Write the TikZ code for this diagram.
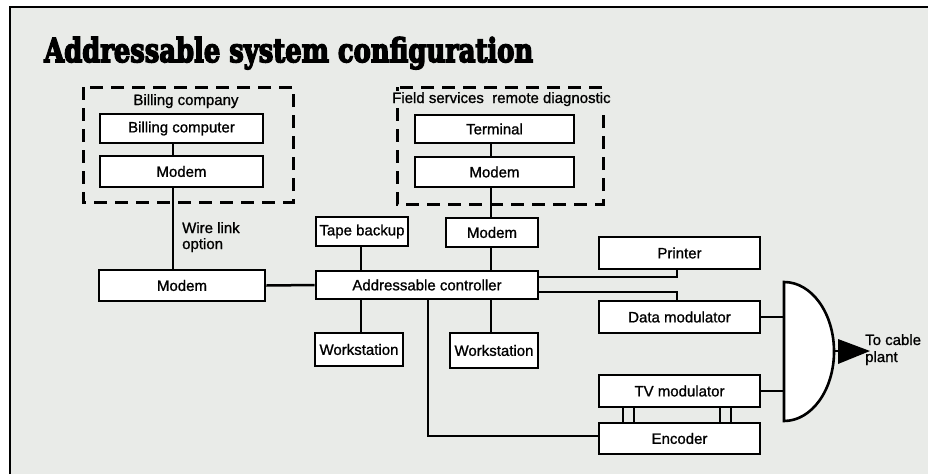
\documentclass[tikz,border=0pt]{standalone}
\usepackage{fontspec}
\usepackage{graphicx}
\setmainfont{Liberation Sans}
\newfontfamily\boxfont{Liberation Sans}[FakeBold=1]
\newfontfamily\titlefont{DejaVu Serif}[BoldFeatures={FakeBold=5}]
\usetikzlibrary{calc}
\definecolor{paper}{RGB}{233,235,232}
\begin{document}
\begin{tikzpicture}[x=1pt,y=-1pt,
  box/.style={draw, line width=2.8pt, fill=white, inner sep=0pt, font=\fontsize{15}{17}\selectfont\boxfont},
  link/.style={line width=2.5pt},
  group/.style={draw, line width=3pt, dash pattern=on 13pt off 8pt},
  lbl/.style={font=\fontsize{15}{17}\selectfont\boxfont, inner sep=1pt}]
\useasboundingbox (0,0) rectangle (928,474);
% background and frame
\fill[paper] (10,7) rectangle (928,474);
\draw[line width=2.8pt] (10,474) -- (10,7) -- (928,7);
% title
\node[anchor=base west, inner sep=0pt] (title) at (44,62)
  {\resizebox{489pt}{25pt}{\titlefont\bfseries Addressable system configuration}};
% groups
\draw[group] (83,87) rectangle (293,202);
\draw[group] (397,87) rectangle (603,204);
\node[lbl, anchor=base] (billco) at (186,105) {Billing company};
\node[lbl, anchor=base west, fill=paper] (field) at (391,103) {Field services\ \ remote diagnostic};
% boxes
\node[box, minimum width=163, minimum height=29] (bcomp) at (181.5,128.5) {Billing computer};
\node[box, minimum width=163, minimum height=31] (bmodem) at (181.5,171.5) {Modem};
\node[box, minimum width=166, minimum height=31] (lmodem) at (182,285.5) {Modem};
\node[box, minimum width=222, minimum height=28] (ctrl) at (427,285) {Addressable controller};
\node[box, minimum width=92, minimum height=29] (tape) at (362,231.5) {Tape backup};
\node[box, minimum width=92, minimum height=29] (fmodem2) at (492,232.5) {Modem};
\node[box, minimum width=88, minimum height=33] (ws1) at (359,349.5) {Workstation};
\node[box, minimum width=88, minimum height=35] (ws2) at (494,350.5) {Workstation};
\node[box, minimum width=159, minimum height=28] (term) at (494.5,129) {Terminal};
\node[box, minimum width=159, minimum height=30] (fmodem) at (494.5,172) {Modem};
\node[box, minimum width=161, minimum height=32] (printer) at (679.5,253) {Printer};
\node[box, minimum width=161, minimum height=32] (datamod) at (679.5,317) {Data modulator};
\node[box, minimum width=161, minimum height=32] (tvmod) at (679.5,391) {TV modulator};
\node[box, minimum width=161, minimum height=31] (enc) at (679.5,438.5) {Encoder};
% labels
\node[lbl, anchor=base west] (wire1) at (181,233) {Wire link};
\node[lbl, anchor=base west] (wire2) at (181,249) {option};
\node[lbl, anchor=base west] (cable1) at (864,345) {To cable};
\node[lbl, anchor=base west] (cable2) at (864,362) {plant};
% connectors
\draw[link] (bcomp.south -| 173,0) -- (bmodem.north -| 173,0);
\draw[link] (bmodem.south -| 173,0) -- (lmodem.north -| 173,0);
\draw[link] (lmodem.east) -- (ctrl.west);
\draw[link] (tape.south -| 361,0) -- (ctrl.north -| 361,0);
\draw[link] (term.south -| 491,0) -- (fmodem.north -| 491,0);
\draw[link] (fmodem.south -| 491,0) -- (fmodem2.north -| 491,0);
\draw[link] (fmodem2.south -| 491,0) -- (ctrl.north -| 491,0);
\draw[link] (ctrl.south -| 361,0) -- (ws1.north -| 361,0);
\draw[link] (ctrl.south -| 491,0) -- (ws2.north -| 491,0);
\draw[link] (ctrl.east |- 0,277) -- (677,277) -- (printer.south -| 677,0);
\draw[link] (ctrl.east |- 0,292) -- (677,292) -- (datamod.north -| 677,0);
\draw[link] (ctrl.south -| 428,0) -- (428,436) -- (enc.west |- 0,436);
% TV modulator / encoder couplings
\draw[link] (tvmod.south -| 623,0) -- (enc.north -| 623,0);
\draw[link] (tvmod.south -| 634,0) -- (enc.north -| 634,0);
\draw[link] (tvmod.south -| 720,0) -- (enc.north -| 720,0);
\draw[link] (tvmod.south -| 731,0) -- (enc.north -| 731,0);
% combiner
\coordinate (comb) at (784,351.5);
\draw[line width=2.6pt, fill=white, line join=miter] (784,421) arc[start angle=-90, end angle=90, x radius=50, y radius=-69.5] -- cycle;
\draw[link] (datamod.east) -- (datamod.east -| comb);
\draw[link] (tvmod.east) -- (tvmod.east -| comb);
\coordinate (tip) at (870,351);
\fill (838,339) -- (tip) -- (838,364) -- cycle;
\draw[link] (833,351) -- (839,351);
\end{tikzpicture}
\end{document}
